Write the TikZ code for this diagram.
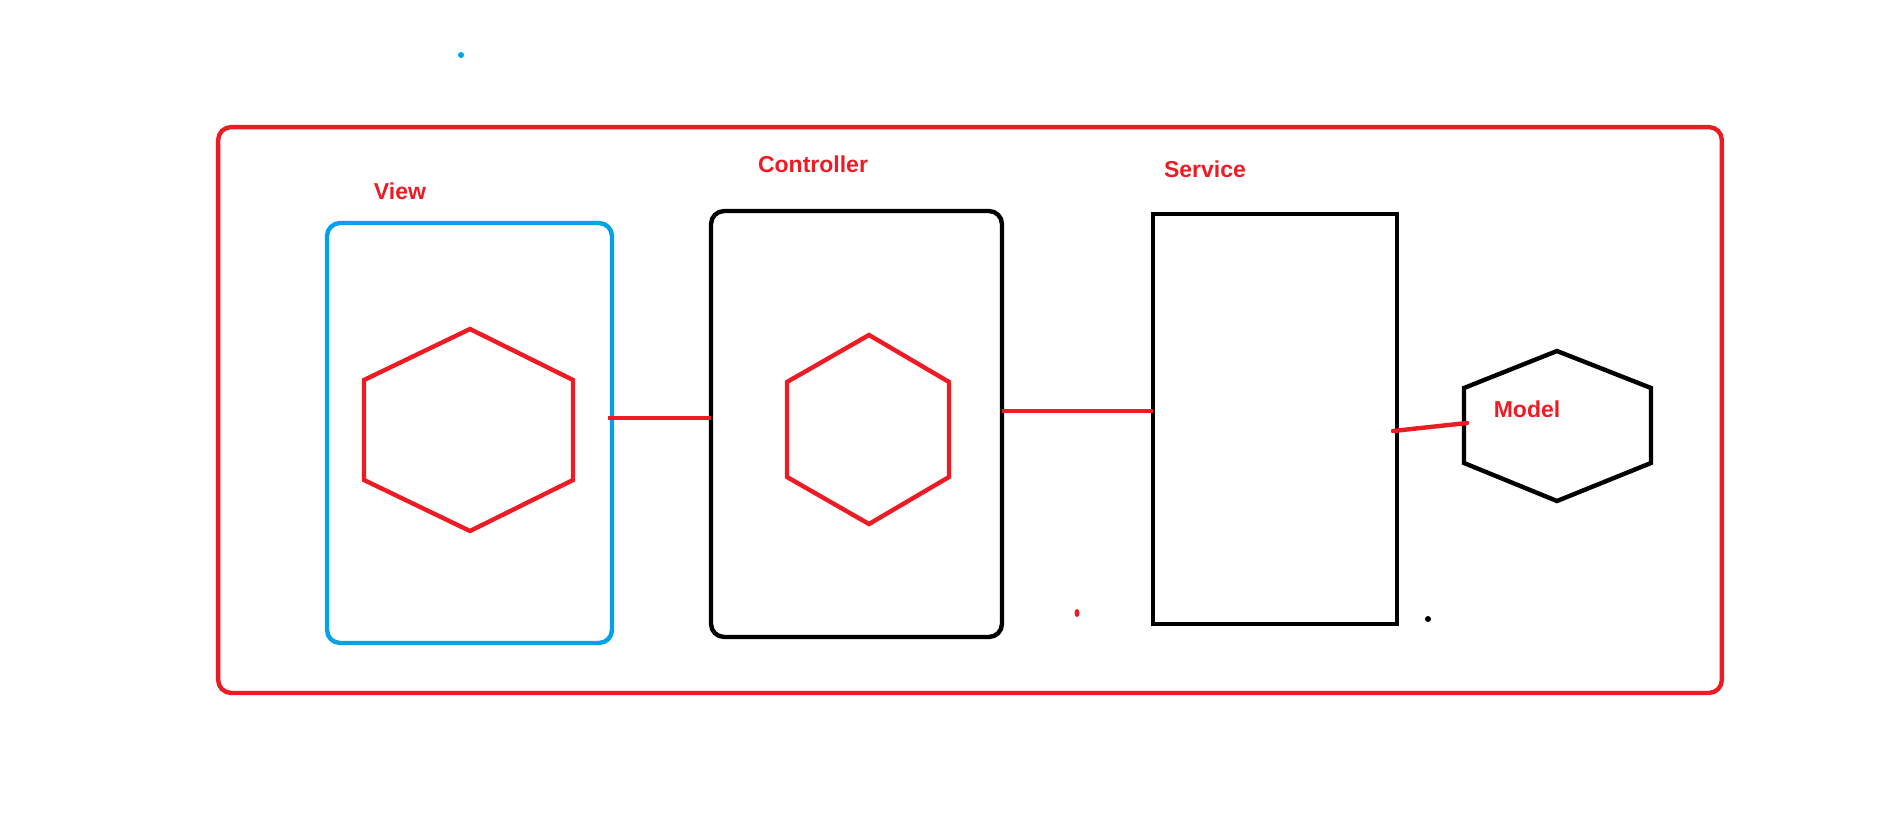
\documentclass[tikz,border=0pt]{standalone}
\usepackage{fontspec}
\newfontfamily\labelfont{Liberation Sans}
\usetikzlibrary{positioning}

\definecolor{paintred}{HTML}{ED1C24}
\definecolor{paintblue}{HTML}{00A2E8}

\begin{document}
\begin{tikzpicture}[x=0.02cm, y=-0.02cm,
    frame/.style={draw, rounded corners=0.26cm, inner sep=0, outer sep=0, line width=2.5pt},
    hexline/.style={line width=2.5pt},
    link/.style={paintred, line width=2.5pt},
    layer/.style={anchor=base, inner sep=0, text=paintred, font=\labelfont\bfseries\fontsize{13.1}{15}\selectfont}]

\useasboundingbox (0,0) rectangle (1901,822);

% outer frame and the layers
\node[frame, paintred, minimum width=30.08cm, minimum height=11.32cm] (app) at (970,410) {};
\node[frame, paintblue, minimum width=5.7cm, minimum height=8.4cm] (view) at (469.5,433) {};
\node[frame, black, minimum width=5.82cm, minimum height=8.52cm] (ctrl) at (856.5,424) {};
\node[frame, black, sharp corners, minimum width=4.88cm, minimum height=8.2cm] (srv) at (1275,419) {};

% labels
\node[layer] (view-lbl) at (400,199) {View};
\node[layer] (ctrl-lbl) at (813,172) {Controller};
\node[layer] (srv-lbl) at (1205,177) {Service};
\node[layer] (mdl-lbl) at (1527,417) {Model};

% hexagons
\draw[hexline, paintred] (470,329) -- (573,380) -- (573,480) -- (470,531) -- (364,480) -- (364,380) -- cycle;
\draw[hexline, paintred] (869,335) -- (949,382) -- (949,477) -- (869,524) -- (787,477) -- (787,382) -- cycle;
\draw[hexline, black] (1557,351) -- (1651,388) -- (1651,463) -- (1557,501) -- (1464,463) -- (1464,388) -- cycle;
\coordinate (mdl-w) at (1467,423);

% connectors
\draw[link] ([xshift=-0.08cm]view.east |- 0,418) -- (ctrl.west |- 0,418);
\draw[link] (ctrl.east |- 0,411) -- (srv.west |- 0,411);
\draw[link, line cap=round] ([xshift=-0.08cm]srv.east |- 0,431) -- (mdl-w);

% stray dots
\fill[paintblue] (461,55) circle (3);
\fill[paintred] (1077,613) ellipse (2.5 and 4);
\fill[black] (1428,619) circle (3);

\end{tikzpicture}
\end{document}
